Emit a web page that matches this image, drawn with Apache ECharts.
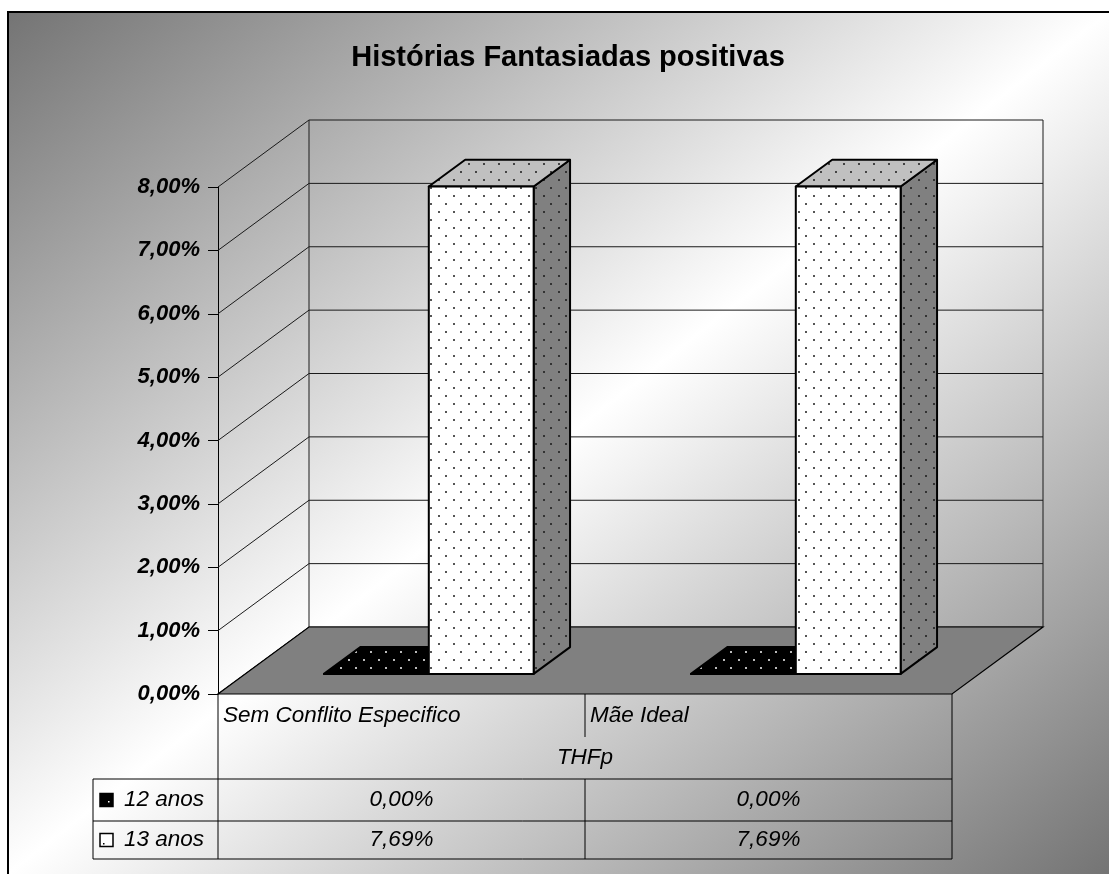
<!DOCTYPE html>
<html>
<head>
<meta charset="utf-8">
<script src="https://cdn.jsdelivr.net/npm/echarts/dist/echarts.min.js"></script>
<style>
  html, body { margin: 0; padding: 0; background: #fff; }
  #chart { width: 1109px; height: 874px; }
</style>
</head>
<body>
<div id="chart"></div>
<script>
const titleText = "Histórias Fantasiadas positivas";
const categories = ["Sem Conflito Especifico", "Mãe Ideal"];
const axisName = "THFp";
const seriesNames = ["12 anos", "13 anos"];
const values12 = [0.0, 0.0];
const values13 = [7.69, 7.69];
const yTicks = [0, 1, 2, 3, 4, 5, 6, 7, 8];

const FONT = 'Arial, "Liberation Sans", sans-serif';
// 3d depth of the plot box, and the slice of it the bars occupy
const DX = 91, DY = -67;
const F0 = 0.3, F1 = 0.7;

const pct = (v) => v.toFixed(2).replace(".", ",") + "%";

function dots(bg, dot) {
  const c = document.createElement("canvas");
  c.width = 15;
  c.height = 16;
  const g = c.getContext("2d");
  g.fillStyle = bg;
  g.fillRect(0, 0, 15, 16);
  g.fillStyle = dot;
  g.fillRect(3, 3, 2, 2);
  g.fillRect(10, 11, 2, 2);
  return { image: c, repeat: "repeat" };
}

const faces = [
  { front: dots("#000", "#bbb"), top: dots("#000", "#bbb"), side: dots("#000", "#bbb") },
  { front: dots("#fff", "#555"), top: dots("#c0c0c0", "#444"), side: dots("#808080", "#333") }
];

function barRender(s) {
  return function (params, api) {
    const i = api.value(0), v = api.value(1);
    const top = api.coord([i, v]);
    const base = api.coord([i, 0]);
    const bw = api.size([1, 0])[0] / 3.5;
    const x0 = top[0] - bw + s * bw + F0 * DX;
    const x1 = x0 + bw;
    const yt = top[1] + F0 * DY;
    const yb = base[1] + F0 * DY;
    const dx = (F1 - F0) * DX, dy = (F1 - F0) * DY;
    const line = { stroke: "#000", lineWidth: 2, lineJoin: "round" };
    return {
      type: "group",
      children: [
        { type: "polygon", shape: { points: [[x1, yt], [x1 + dx, yt + dy], [x1 + dx, yb + dy], [x1, yb]] },
          style: Object.assign({ fill: faces[s].side }, line) },
        { type: "polygon", shape: { points: [[x0, yt], [x1, yt], [x1 + dx, yt + dy], [x0 + dx, yt + dy]] },
          style: Object.assign({ fill: faces[s].top }, line) },
        { type: "rect", shape: { x: x0, y: yt, width: bw, height: yb - yt },
          style: Object.assign({ fill: faces[s].front }, line) }
      ]
    };
  };
}

function wallRender(params, api) {
  const cs = params.coordSys;
  const y = api.coord([0, api.value(1)])[1];
  const x = cs.x;
  const st = { stroke: "#1a1a1a", lineWidth: 1 };
  return {
    type: "group",
    children: [
      { type: "line", shape: { x1: x, y1: y, x2: x + DX, y2: y + DY }, style: st },
      { type: "line", shape: { x1: x + DX, y1: y + DY, x2: x + cs.width + DX, y2: y + DY }, style: st }
    ]
  };
}

function floorRender(params, api) {
  const cs = params.coordSys;
  const yTop = api.coord([0, yTicks[yTicks.length - 1]])[1];
  const y0 = api.coord([0, 0])[1];
  const xl = cs.x, xr = cs.x + cs.width;
  const st = { stroke: "#1a1a1a", lineWidth: 1 };
  return {
    type: "group",
    children: [
      { type: "line", shape: { x1: xl + DX, y1: yTop + DY, x2: xl + DX, y2: y0 + DY }, style: st },
      { type: "line", shape: { x1: xr + DX, y1: yTop + DY, x2: xr + DX, y2: y0 + DY }, style: st },
      { type: "polygon", shape: { points: [[xl, y0], [xr, y0], [xr + DX, y0 + DY], [xl + DX, y0 + DY]] },
        style: { fill: "#808080", stroke: "#000", lineWidth: 1.2 } }
    ]
  };
}

function tableRender(params, api) {
  const cs = params.coordSys;
  const gx0 = cs.x, gx1 = cs.x + cs.width, gy = cs.y + cs.height;
  const bw = api.size([1, 0])[0];
  const lx = gx0 - 125;
  const rowLine1 = gy + 85, rowLine2 = gy + 127, rowEnd = gy + 165;
  const rowMid = [gy + 106, gy + 146];
  const st = { stroke: "#000", lineWidth: 1 };
  const txt = (x, y, text, align) => ({
    type: "text",
    style: { x, y, text, align, verticalAlign: "middle", fill: "#000",
             fontSize: 22.5, fontStyle: "italic", fontFamily: FONT }
  });
  const ch = [];
  const hl = (x1, x2, y) => ch.push({ type: "line", shape: { x1, y1: y, x2, y2: y }, style: st });
  const vl = (x, y1, y2) => ch.push({ type: "line", shape: { x1: x, y1, x2: x, y2 }, style: st });

  vl(gx0, gy, rowEnd);
  vl(gx1, gy, rowEnd);
  vl(lx, rowLine1, rowEnd);
  hl(lx, gx1, rowLine1);
  hl(lx, gx1, rowLine2);
  hl(lx, gx1, rowEnd);

  categories.forEach((c, i) => {
    const cx = api.coord([i, 0])[0];
    const left = cx - bw / 2;
    if (i > 0) {
      vl(left, gy, gy + 43);
      vl(left, rowLine1, rowEnd);
    }
    ch.push(txt(left + 5, gy + 22, c, "left"));
    ch.push(txt(cx, rowMid[0], pct(values12[i]), "center"));
    ch.push(txt(cx, rowMid[1], pct(values13[i]), "center"));
  });
  ch.push(txt(gx0 + cs.width / 2, gy + 64, axisName, "center"));

  seriesNames.forEach((n, s) => {
    const y = rowMid[s];
    ch.push({ type: "rect", shape: { x: lx + 7, y: y - 6.5, width: 13, height: 13 },
              style: { fill: s === 0 ? "#000" : "#fff", stroke: "#000", lineWidth: 1.5 } });
    ch.push({ type: "rect", shape: { x: lx + (s === 0 ? 15 : 10), y: y + (s === 0 ? 1 : 3), width: 1.5, height: 1.5 },
              style: { fill: s === 0 ? "#fff" : "#000" } });
    ch.push(txt(lx + 31, y, n, "left"));
  });
  return { type: "group", children: ch };
}

const chart = echarts.init(document.getElementById("chart"), null, { renderer: "canvas" });

chart.setOption({
  animation: false,
  backgroundColor: "transparent",
  graphic: [{
    type: "rect",
    z: -100,
    shape: { x: 8, y: 12, width: 1130, height: 900 },
    style: {
      fill: {
        type: "linear", global: true, x: 8, y: 12, x2: 845, y2: 1081,
        colorStops: [
          { offset: 0, color: "#747474" },
          { offset: 0.5, color: "#ffffff" },
          { offset: 1, color: "#747474" }
        ]
      },
      stroke: "#000",
      lineWidth: 2
    }
  }],
  title: {
    text: titleText,
    left: 563,
    top: 38,
    textAlign: "center",
    textStyle: { fontSize: 29, fontWeight: "bold", fontFamily: FONT, color: "#000" }
  },
  grid: { left: 218, top: 187, right: 157, bottom: 180 },
  xAxis: {
    type: "category",
    data: categories,
    axisLine: { show: false },
    axisTick: { show: false },
    axisLabel: { show: false },
    splitLine: { show: false }
  },
  yAxis: {
    type: "value",
    min: 0,
    max: 8,
    interval: 1,
    axisLine: { show: true, lineStyle: { color: "#000", width: 1 } },
    axisTick: { show: true, length: 10, lineStyle: { color: "#000", width: 1 } },
    splitLine: { show: false },
    axisLabel: {
      margin: 18,
      formatter: (v) => pct(v),
      fontSize: 22,
      fontWeight: "bold",
      fontStyle: "italic",
      fontFamily: FONT,
      color: "#000"
    }
  },
  series: [
    { type: "custom", name: "walls", renderItem: wallRender, encode: { x: 0, y: 1 },
      data: yTicks.map((t) => [0, t]), z: 1, silent: true },
    { type: "custom", name: "floor", renderItem: floorRender, encode: { x: 0, y: 1 },
      data: [[0, 0]], z: 2, silent: true },
    { type: "custom", name: seriesNames[0], renderItem: barRender(0), encode: { x: 0, y: 1 },
      data: values12.map((v, i) => [i, v]), z: 3 },
    { type: "custom", name: seriesNames[1], renderItem: barRender(1), encode: { x: 0, y: 1 },
      data: values13.map((v, i) => [i, v]), z: 4 },
    { type: "custom", name: "table", renderItem: tableRender, encode: { x: 0, y: 1 },
      data: [[0, 0]], z: 5, silent: true, clip: false }
  ]
});
</script>
</body>
</html>
